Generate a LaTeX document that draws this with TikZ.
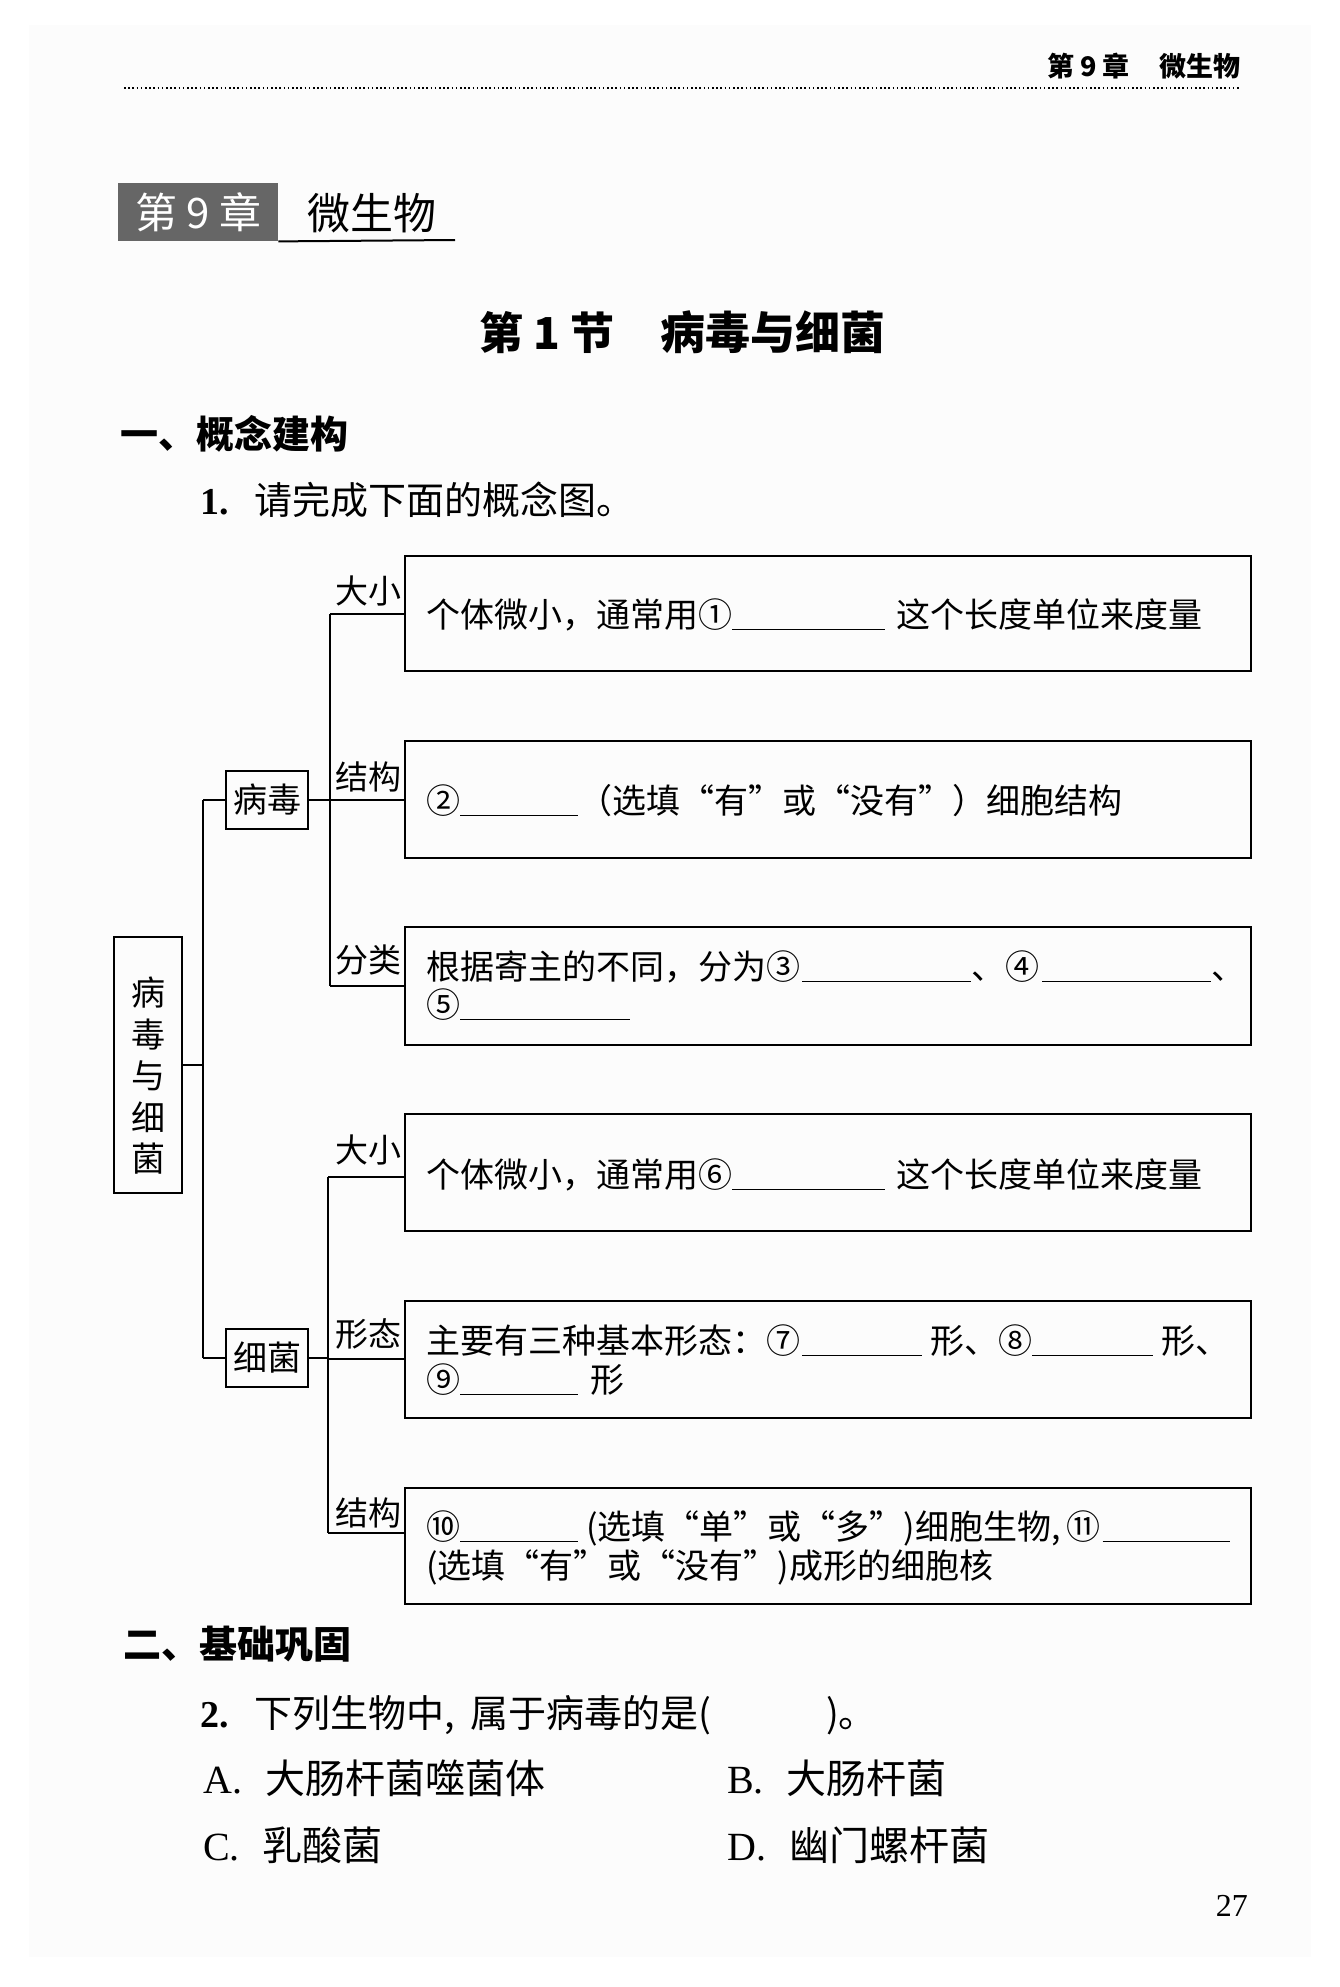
\documentclass[tikz,border=0pt]{standalone}
\usepackage{fontspec}
\setmainfont{Liberation Serif}
\newfontfamily\cjk{Noto Sans CJK SC}
\newcommand\fillbl[1]{\rule[-3pt]{#1pt}{1.4pt}}
\begin{document}
\begin{tikzpicture}[x=1pt,y=-1pt,
 cbox/.style={draw, line width=2pt, inner sep=0pt},
 conn/.style={line width=1.6pt},
 lbl/.style={font=\cjk\fontsize{33}{33}\selectfont, anchor=east, inner sep=0pt},
 btxt/.style={font=\cjk\fontsize{34}{34}\selectfont, anchor=base west, inner sep=0pt},
 head/.style={font=\cjk\bfseries\fontsize{38}{38}\selectfont, anchor=base west, inner sep=0pt},
 qtxt/.style={font=\fontsize{38}{38}\selectfont, anchor=base west, inner sep=0pt},
 choice/.style={font=\fontsize{40}{40}\selectfont, anchor=base west, inner sep=0pt},
]
\useasboundingbox (0,0) rectangle (1339,1987);
\fill[black!1] (29,25) rectangle (1311,1957);

% running header
\node[font=\cjk\bfseries\fontsize{27}{27}\selectfont, anchor=base east, inner sep=0pt] (hdr) at (1241,76) {第 9 章\hspace{30pt}微生物};
\coordinate (hl) at (124,88);
\coordinate (hr) at (1241,88);
\draw[line width=1.6pt, dash pattern=on 1.6pt off 2.6pt] (hl) -- (hr);

% chapter title
\node[fill=black!60, minimum width=160pt, minimum height=58pt, anchor=north west, inner sep=0pt,
      font=\cjk\fontsize{42}{42}\selectfont, text=white] (chap) at (118,183) {第 9 章};
\node[anchor=base west, font=\cjk\fontsize{43}{43}\selectfont, inner sep=0pt] (chapt) at (307,229) {微生物};
\coordinate (ul) at (455,240);
\draw[line width=2pt] (chap.south east) -- (ul);

% section title
\node[anchor=base west, font=\cjk\bfseries\fontsize{44}{44}\selectfont, inner sep=0pt] (sec) at (479,349) {第 1 节\hspace{46pt}{\fontsize{45}{45}\selectfont 病毒与细菌}};

\node[head] (h1) at (120,448) {一、概念建构};
\node[qtxt] (q1) at (200,514) {\textbf{1.}\hspace{26pt}{\cjk 请完成下面的概念图。}};

% concept map boxes
\node[cbox, anchor=north west, minimum width=846pt, minimum height=115pt] (b1) at (404,555) {};
\node[cbox, anchor=north west, minimum width=846pt, minimum height=117pt] (b2) at (404,740) {};
\node[cbox, anchor=north west, minimum width=846pt, minimum height=118pt] (b3) at (404,926) {};
\node[cbox, anchor=north west, minimum width=846pt, minimum height=117pt] (b4) at (404,1113) {};
\node[cbox, anchor=north west, minimum width=846pt, minimum height=117pt] (b5) at (404,1300) {};
\node[cbox, anchor=north west, minimum width=846pt, minimum height=116pt] (b6) at (404,1487) {};

\node[cbox, minimum width=68pt, minimum height=256pt] (top) at (148,1065) {};
\node[font=\cjk\fontsize{34}{41.5}\selectfont, align=center, inner sep=0pt] (toptxt) at (148,1076) {病\\毒\\与\\细\\菌};
\node[cbox, minimum width=82pt, minimum height=58pt, font=\cjk\fontsize{34}{34}\selectfont] (vir) at (267,800) {病毒};
\node[cbox, minimum width=82pt, minimum height=58pt, font=\cjk\fontsize{34}{34}\selectfont] (bac) at (267,1358) {细菌};

% connectors
\coordinate (mm) at (203,1065);
\coordinate (m1) at (203,800);
\coordinate (m2) at (203,1358);
\draw[conn] (top.east) -- (mm);
\draw[conn] (m1) -- (m2);
\draw[conn] (m1) -- (vir.west);
\draw[conn] (m2) -- (bac.west);

\coordinate (v1) at (330,614);
\coordinate (v2) at (330,800);
\coordinate (v3) at (330,986);
\draw[conn] (v1) -- (v3);
\draw[conn] (vir.east) -- (v2);
\draw[conn] (v1) -- (v1 -| b1.west);
\draw[conn] (v2) -- (v2 -| b2.west);
\draw[conn] (v3) -- (v3 -| b3.west);

\coordinate (u1) at (328,1177);
\coordinate (u2) at (328,1359);
\coordinate (u3) at (328,1533);
\draw[conn] (u1) -- (u3);
\draw[conn] (bac.east) -- (bac.east -| u2);
\draw[conn] (u1) -- (u1 -| b4.west);
\draw[conn] (u2) -- (u2 -| b5.west);
\draw[conn] (u3) -- (u3 -| b6.west);

% branch labels
\node[lbl] (l1) at (402,591) {大小};
\node[lbl] (l2) at (402,777) {结构};
\node[lbl] (l3) at (402,960) {分类};
\node[lbl] (l4) at (402,1150) {大小};
\node[lbl] (l5) at (402,1334) {形态};
\node[lbl] (l6) at (402,1513) {结构};

% box texts
\node[btxt] (t1) at (426,627) {个体微小，通常用①\fillbl{153}\hspace{11pt}这个长度单位来度量};
\node[btxt] (t2) at (426,813) {②\fillbl{118}（选填“有”或“没有”）细胞结构};
\node[btxt] (t3a) at (426,979) {根据寄主的不同，分为③\hspace{2pt}\fillbl{169}、④\hspace{3pt}\fillbl{169}、};
\node[btxt] (t3b) at (426,1017) {⑤\fillbl{170}};
\node[btxt] (t4) at (426,1187) {个体微小，通常用⑥\fillbl{153}\hspace{11pt}这个长度单位来度量};
\node[btxt] (t5a) at (426,1353) {主要有三种基本形态：⑦\hspace{2pt}\fillbl{120}\hspace{8pt}形、⑧\fillbl{121}\hspace{8pt}形、};
\node[btxt] (t5b) at (426,1392) {⑨\fillbl{118}\hspace{12pt}形};
\node[btxt] (t6a) at (426,1539) {⑩\fillbl{118}\hspace{8pt}(选填“单”或“多”)细胞生物,\hspace{6pt}⑪\hspace{2pt}\fillbl{127}};
\node[btxt] (t6b) at (426,1578) {(选填“有”或“没有”)成形的细胞核};

% part two
\node[head] (h2) at (123,1658) {二、基础巩固};
\node[qtxt] (q2) at (200,1727) {\textbf{2.}\hspace{26pt}{\cjk 下列生物中,\hspace{15pt}属于病毒的是(\hspace{115pt})。}};
\node[choice] (ca) at (203,1793) {A.\hspace{23pt}{\cjk 大肠杆菌噬菌体}};
\node[choice] (cb) at (727,1793) {B.\hspace{23pt}{\cjk 大肠杆菌}};
\node[choice] (cc) at (203,1860) {C.\hspace{23pt}{\cjk 乳酸菌}};
\node[choice] (cd) at (727,1860) {D.\hspace{23pt}{\cjk 幽门螺杆菌}};

\node[anchor=base east, font=\fontsize{32}{32}\selectfont, inner sep=0pt] (pg) at (1248,1916) {27};
\end{tikzpicture}
\end{document}
